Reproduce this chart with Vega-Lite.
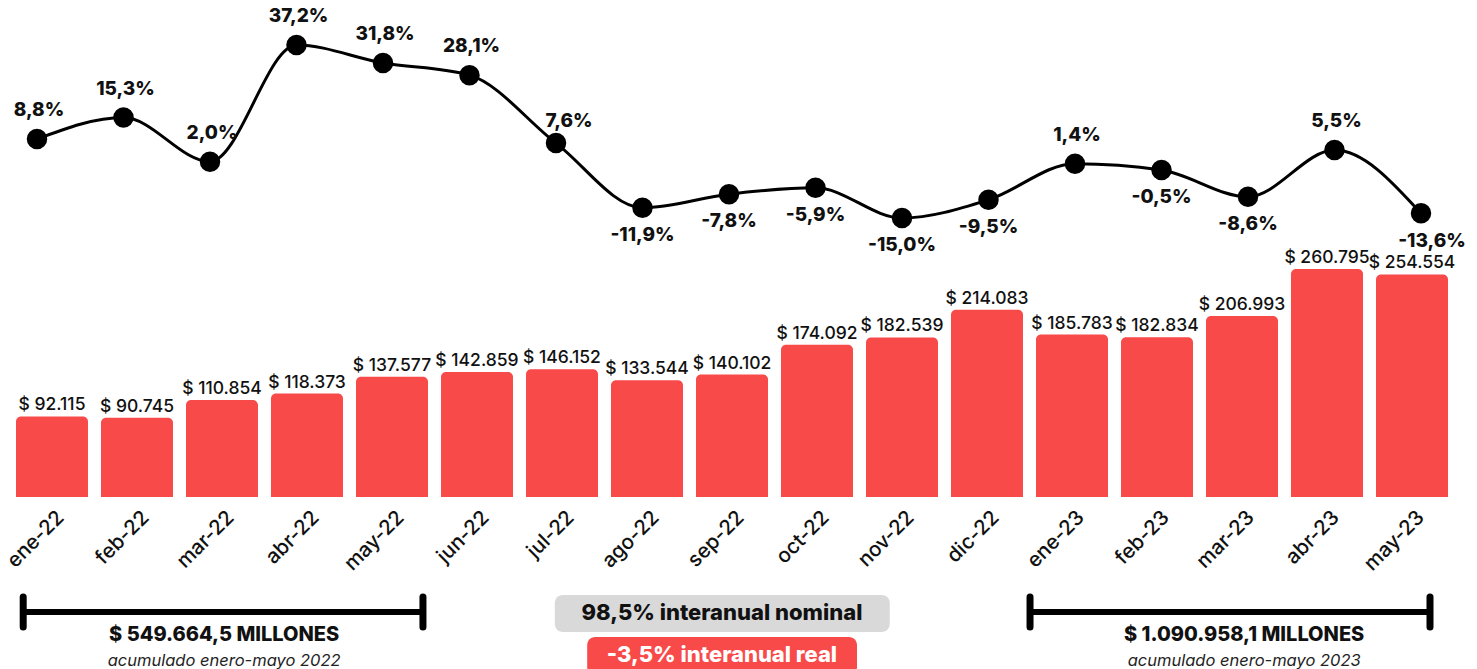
{
  "$schema": "https://vega.github.io/schema/vega-lite/v6.json",
  "width": 1477,
  "height": 669,
  "padding": 0,
  "autosize": {"type": "none"},
  "background": "white",
  "config": {"view": {"stroke": null}, "font": "Inter"},
  "datasets": {
    "months": [
      {"month": "ene-22", "value": 92115, "label": "$ 92.115", "pct": 8.8, "pctLabel": "8,8%"},
      {"month": "feb-22", "value": 90745, "label": "$ 90.745", "pct": 15.3, "pctLabel": "15,3%"},
      {"month": "mar-22", "value": 110854, "label": "$ 110.854", "pct": 2.0, "pctLabel": "2,0%"},
      {"month": "abr-22", "value": 118373, "label": "$ 118.373", "pct": 37.2, "pctLabel": "37,2%"},
      {"month": "may-22", "value": 137577, "label": "$ 137.577", "pct": 31.8, "pctLabel": "31,8%"},
      {"month": "jun-22", "value": 142859, "label": "$ 142.859", "pct": 28.1, "pctLabel": "28,1%"},
      {"month": "jul-22", "value": 146152, "label": "$ 146.152", "pct": 7.6, "pctLabel": "7,6%"},
      {"month": "ago-22", "value": 133544, "label": "$ 133.544", "pct": -11.9, "pctLabel": "-11,9%"},
      {"month": "sep-22", "value": 140102, "label": "$ 140.102", "pct": -7.8, "pctLabel": "-7,8%"},
      {"month": "oct-22", "value": 174092, "label": "$ 174.092", "pct": -5.9, "pctLabel": "-5,9%"},
      {"month": "nov-22", "value": 182539, "label": "$ 182.539", "pct": -15.0, "pctLabel": "-15,0%"},
      {"month": "dic-22", "value": 214083, "label": "$ 214.083", "pct": -9.5, "pctLabel": "-9,5%"},
      {"month": "ene-23", "value": 185783, "label": "$ 185.783", "pct": 1.4, "pctLabel": "1,4%"},
      {"month": "feb-23", "value": 182834, "label": "$ 182.834", "pct": -0.5, "pctLabel": "-0,5%"},
      {"month": "mar-23", "value": 206993, "label": "$ 206.993", "pct": -8.6, "pctLabel": "-8,6%"},
      {"month": "abr-23", "value": 260795, "label": "$ 260.795", "pct": 5.5, "pctLabel": "5,5%"},
      {"month": "may-23", "value": 254554, "label": "$ 254.554", "pct": -13.6, "pctLabel": "-13,6%"}
    ],
    "notes": [
      {"yr": "2022", "from": "ene-22", "to": "may-22", "mid": "mar-22", "big": "$ 549.664,5 MILLONES", "small": "acumulado enero-mayo 2022"},
      {"yr": "2023", "from": "ene-23", "to": "may-23", "mid": "mar-23", "big": "$ 1.090.958,1 MILLONES", "small": "acumulado enero-mayo 2023"}
    ]
  },
  "layer": [
    {
      "layer": [
        {
          "data": {"name": "months"},
          "mark": {"type": "bar", "color": "#F94A4A", "cornerRadiusTopLeft": 5, "cornerRadiusTopRight": 5},
          "encoding": {
            "x": {
              "field": "month", "type": "nominal",
              "scale": {
                "domain": ["ene-22","feb-22","mar-22","abr-22","may-22","jun-22","jul-22","ago-22","sep-22","oct-22","nov-22","dic-22","ene-23","feb-23","mar-23","abr-23","may-23"],
                "range": [16, 1448], "paddingInner": 0.153, "paddingOuter": 0
              },
              "axis": {
                "orient": "bottom", "offset": -172, "domain": false, "ticks": false, "title": null,
                "labelAngle": -45, "labelAlign": "right", "labelBaseline": "middle",
                "labelFontSize": 20.5, "labelFont": "Inter", "labelFontWeight": 500, "labelColor": "#111",
                "labelPadding": 17, "labelOffset": 9
              }
            },
            "y": {"field": "value", "type": "quantitative", "scale": {"domain": [-196730, 568450], "nice": false, "zero": false}, "axis": null},
            "y2": {"datum": 0}
          }
        },
        {
          "data": {"name": "months"},
          "mark": {"type": "text", "baseline": "alphabetic", "dy": -6, "fontSize": 17.5, "fontWeight": 500, "color": "#111"},
          "encoding": {
            "x": {"field": "month", "type": "nominal"},
            "y": {"field": "value", "type": "quantitative"},
            "text": {"field": "label"}
          }
        },
        {
          "data": {"name": "notes"},
          "transform": [{"filter": "datum.yr == '2022'"}],
          "mark": {"type": "rule", "strokeWidth": 6, "color": "black", "strokeCap": "round"},
          "encoding": {
            "x": {"field": "from", "type": "nominal", "bandPosition": 0.1},
            "x2": {"field": "to", "bandPosition": 0.93},
            "y": {"datum": -131500}
          }
        },
        {
          "data": {"name": "notes"},
          "transform": [{"filter": "datum.yr == '2022'"}],
          "mark": {"type": "rule", "strokeWidth": 7, "color": "black", "strokeCap": "round"},
          "encoding": {
            "x": {"field": "from", "type": "nominal", "bandPosition": 0.1},
            "y": {"datum": -114400},
            "y2": {"datum": -148700}
          }
        },
        {
          "data": {"name": "notes"},
          "transform": [{"filter": "datum.yr == '2022'"}],
          "mark": {"type": "rule", "strokeWidth": 7, "color": "black", "strokeCap": "round"},
          "encoding": {
            "x": {"field": "to", "type": "nominal", "bandPosition": 0.93},
            "y": {"datum": -114400},
            "y2": {"datum": -148700}
          }
        },
        {
          "data": {"name": "notes"},
          "transform": [{"filter": "datum.yr == '2023'"}],
          "mark": {"type": "rule", "strokeWidth": 6, "color": "black", "strokeCap": "round"},
          "encoding": {
            "x": {"field": "from", "type": "nominal", "bandPosition": -0.083},
            "x2": {"field": "to", "bandPosition": 0.75},
            "y": {"datum": -131500}
          }
        },
        {
          "data": {"name": "notes"},
          "transform": [{"filter": "datum.yr == '2023'"}],
          "mark": {"type": "rule", "strokeWidth": 7, "color": "black", "strokeCap": "round"},
          "encoding": {
            "x": {"field": "from", "type": "nominal", "bandPosition": -0.083},
            "y": {"datum": -114400},
            "y2": {"datum": -148700}
          }
        },
        {
          "data": {"name": "notes"},
          "transform": [{"filter": "datum.yr == '2023'"}],
          "mark": {"type": "rule", "strokeWidth": 7, "color": "black", "strokeCap": "round"},
          "encoding": {
            "x": {"field": "to", "type": "nominal", "bandPosition": 0.75},
            "y": {"datum": -114400},
            "y2": {"datum": -148700}
          }
        },
        {
          "data": {"name": "notes"},
          "mark": {"type": "text", "fontSize": 20, "fontWeight": 800, "color": "#111", "baseline": "middle"},
          "encoding": {
            "x": {"field": "mid", "type": "nominal", "bandPosition": 0.53},
            "y": {"datum": -157800},
            "text": {"field": "big"}
          }
        },
        {
          "data": {"name": "notes"},
          "mark": {"type": "text", "fontSize": 16.5, "fontStyle": "italic", "color": "#222", "baseline": "middle"},
          "encoding": {
            "x": {"field": "mid", "type": "nominal", "bandPosition": 0.53},
            "y": {"datum": -187600},
            "text": {"field": "small"}
          }
        },
        {
          "data": {"values": [{}]},
          "mark": {"type": "rect", "color": "#D9D9D9", "cornerRadius": 8},
          "encoding": {
            "x": {"datum": "jul-22", "type": "nominal", "bandPosition": 0.4},
            "x2": {"datum": "nov-22", "bandPosition": 0.33},
            "y": {"datum": -112100},
            "y2": {"datum": -154400}
          }
        },
        {
          "data": {"values": [{}]},
          "mark": {"type": "text", "text": "98,5% interanual nominal", "fontSize": 22, "fontWeight": 800, "color": "#111", "baseline": "middle"},
          "encoding": {
            "x": {"datum": "sep-22", "type": "nominal", "bandPosition": 0.36},
            "y": {"datum": -132700}
          }
        },
        {
          "data": {"values": [{}]},
          "mark": {"type": "rect", "color": "#F94A4A", "cornerRadius": 8},
          "encoding": {
            "x": {"datum": "jul-22", "type": "nominal", "bandPosition": 0.85},
            "x2": {"datum": "nov-22", "bandPosition": -0.125},
            "y": {"datum": -160100},
            "y2": {"datum": -203600}
          }
        },
        {
          "data": {"values": [{}]},
          "mark": {"type": "text", "text": "-3,5% interanual real", "fontSize": 22, "fontWeight": 800, "color": "white", "baseline": "middle"},
          "encoding": {
            "x": {"datum": "sep-22", "type": "nominal", "bandPosition": 0.36},
            "y": {"datum": -180700}
          }
        }
      ]
    },
    {
      "data": {"name": "months"},
      "encoding": {
        "x": {
          "field": "month", "type": "nominal",
          "scale": {
            "type": "point",
            "domain": ["ene-22","feb-22","mar-22","abr-22","may-22","jun-22","jul-22","ago-22","sep-22","oct-22","nov-22","dic-22","ene-23","feb-23","mar-23","abr-23","may-23"],
            "range": [37, 1421], "padding": 0
          },
          "axis": null
        },
        "y": {"field": "pct", "type": "quantitative", "scale": {"domain": [-151.09, 50.78], "nice": false, "zero": false}, "axis": null}
      },
      "layer": [
        {"mark": {"type": "line", "interpolate": "monotone", "color": "black", "strokeWidth": 3}},
        {"mark": {"type": "point", "filled": true, "color": "black", "size": 420, "opacity": 1}},
        {
          "transform": [{"filter": "datum.pct >= 0 && datum.month != 'jul-22'"}],
          "mark": {"type": "text", "dy": -29, "dx": 2, "fontSize": 19, "fontWeight": 800, "color": "#111", "baseline": "middle"},
          "encoding": {"text": {"field": "pctLabel"}}
        },
        {
          "transform": [{"filter": "datum.month == 'jul-22'"}],
          "mark": {"type": "text", "dy": -22, "dx": 13, "fontSize": 19, "fontWeight": 800, "color": "#111", "baseline": "middle"},
          "encoding": {"text": {"field": "pctLabel"}}
        },
        {
          "transform": [{"filter": "datum.pct < 0 && datum.month != 'may-23'"}],
          "mark": {"type": "text", "dy": 27, "fontSize": 19, "fontWeight": 800, "color": "#111", "baseline": "middle"},
          "encoding": {"text": {"field": "pctLabel"}}
        },
        {
          "transform": [{"filter": "datum.month == 'may-23'"}],
          "mark": {"type": "text", "dy": 28, "dx": 11, "fontSize": 19, "fontWeight": 800, "color": "#111", "baseline": "middle"},
          "encoding": {"text": {"field": "pctLabel"}}
        }
      ]
    }
  ],
  "resolve": {"scale": {"x": "independent", "y": "independent"}, "axis": {"x": "independent", "y": "independent"}}
}
